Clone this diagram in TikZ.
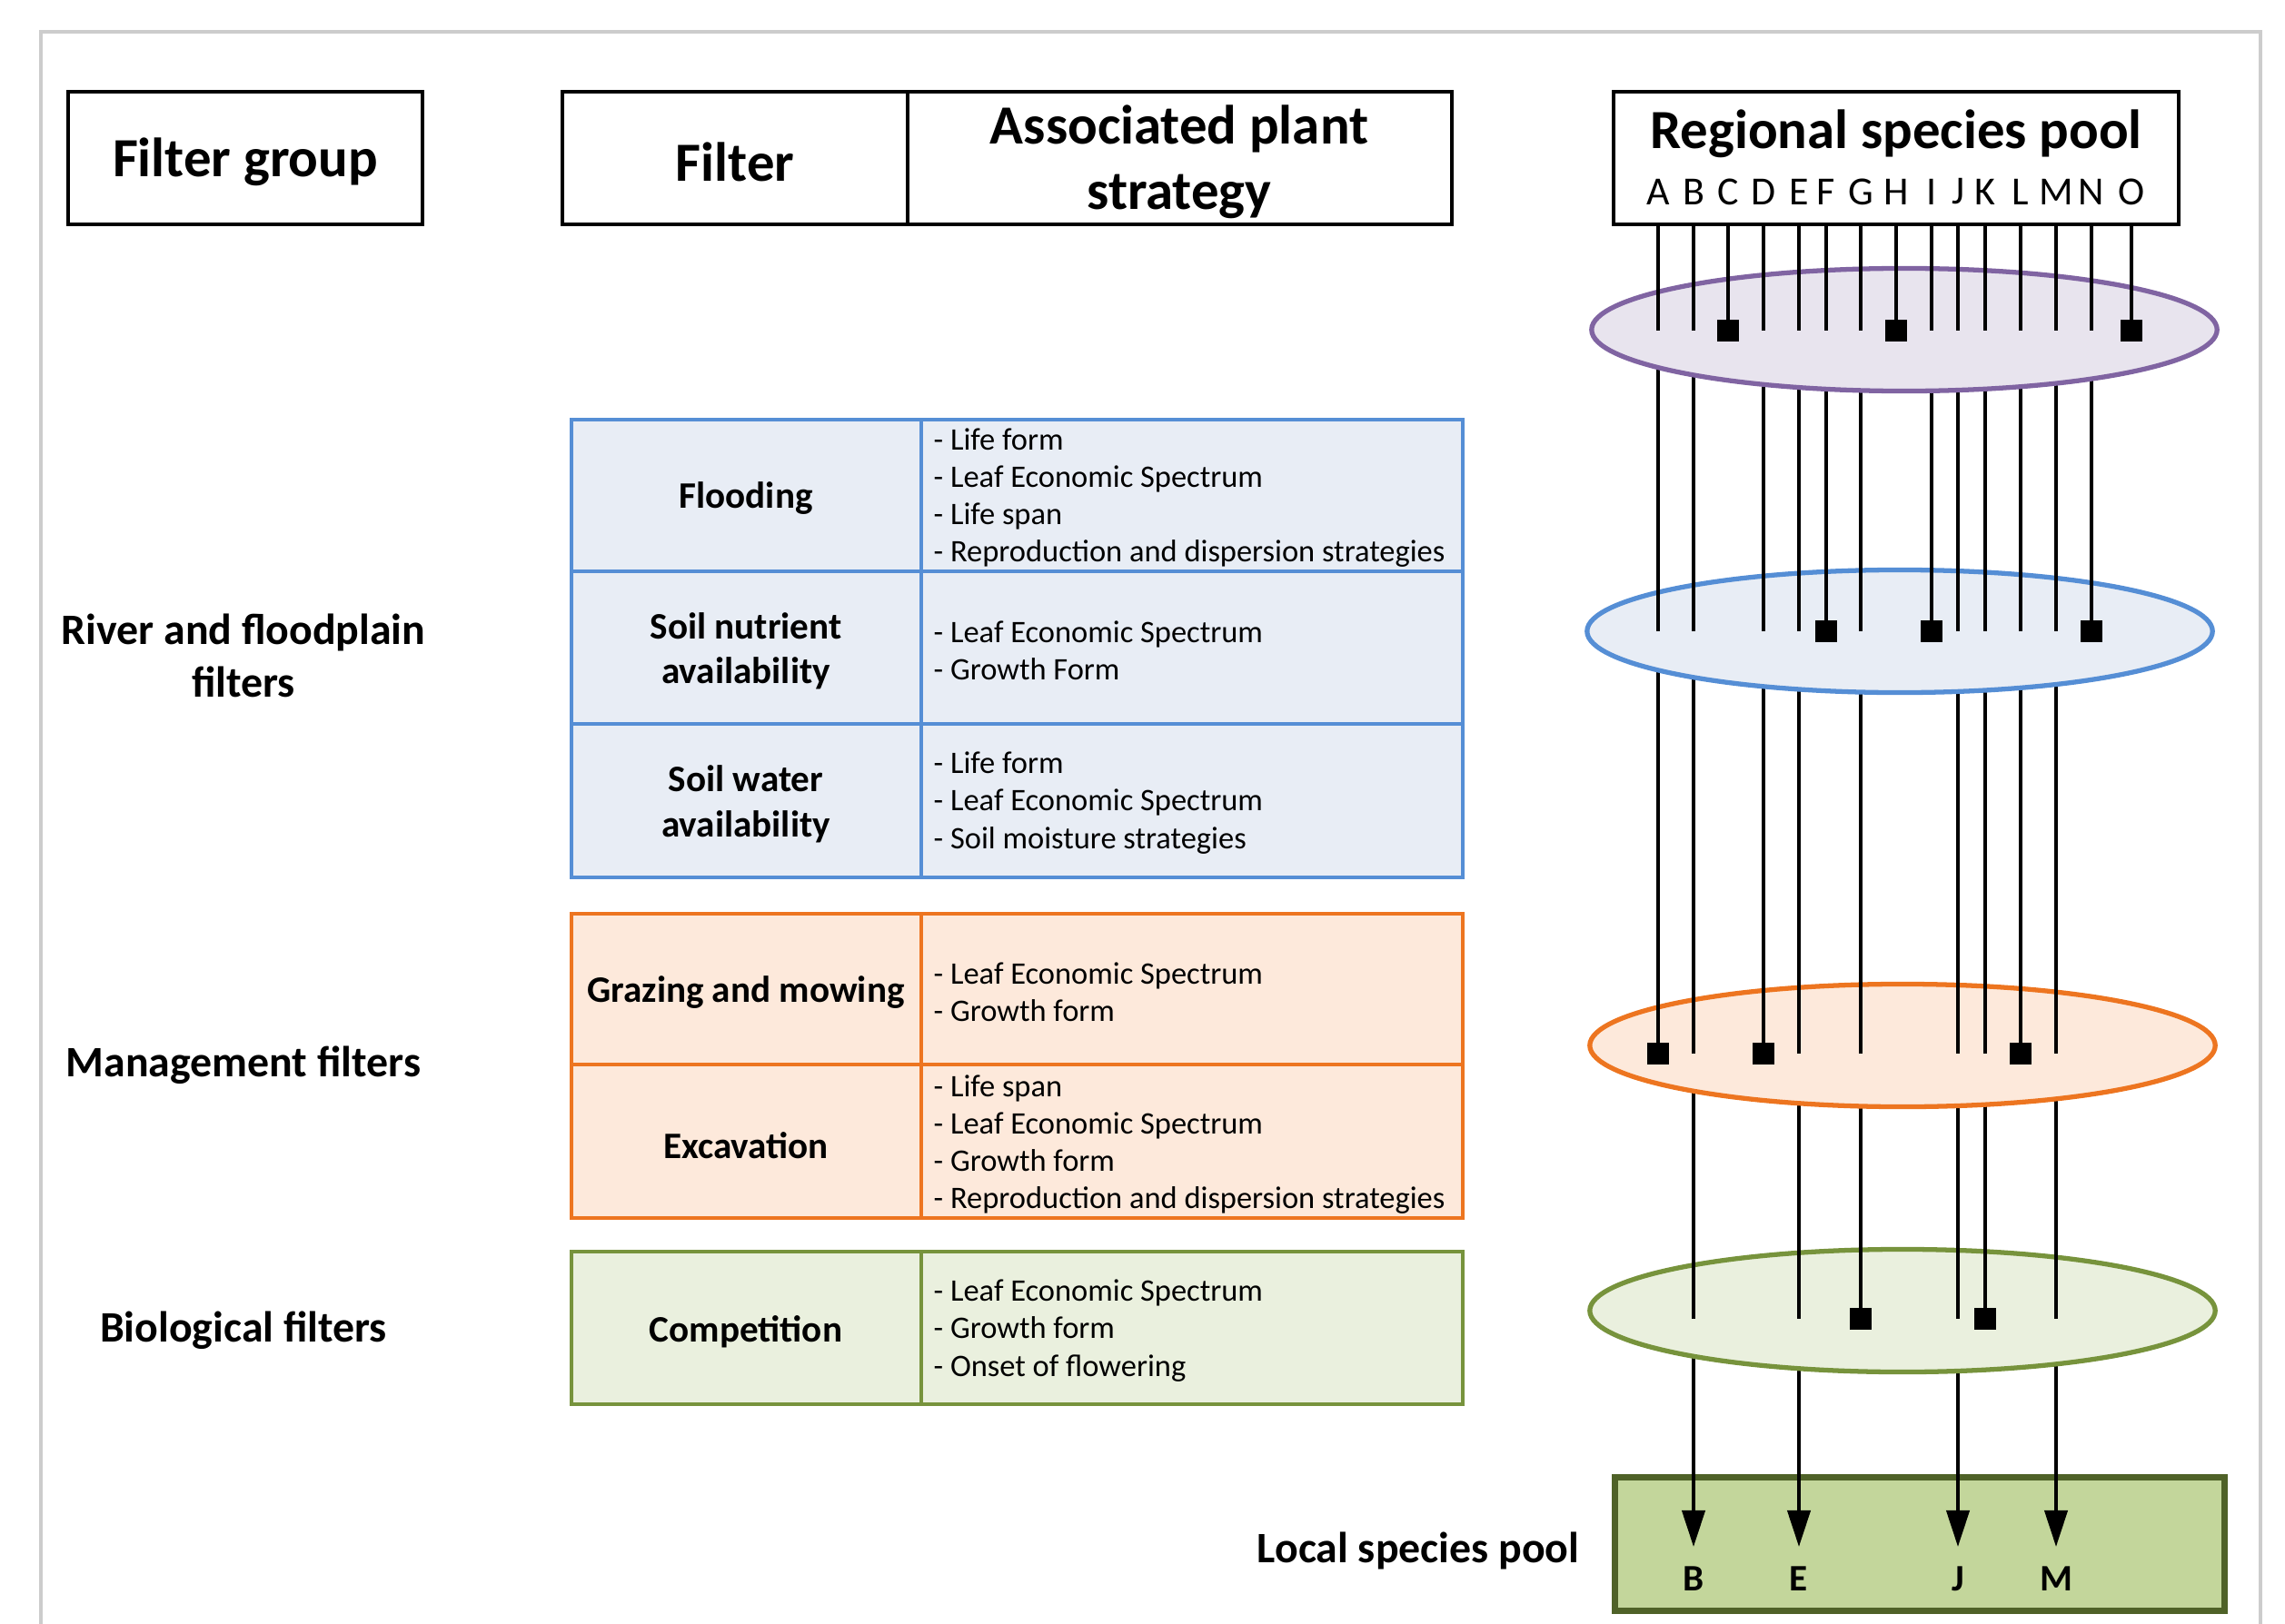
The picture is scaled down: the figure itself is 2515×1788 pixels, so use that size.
\documentclass[tikz,border=0pt]{standalone}
\usepackage{fontspec}
\setmainfont{Carlito}
\usetikzlibrary{arrows.meta,shapes.geometric}

\definecolor{purpleline}{HTML}{8064A2}
\definecolor{purplefill}{HTML}{E8E4EE}
\definecolor{blueline}{HTML}{558ED5}
\definecolor{bluefill}{HTML}{E8EDF5}
\definecolor{orangeline}{HTML}{ED7520}
\definecolor{orangefill}{HTML}{FDE9DB}
\definecolor{greenline}{HTML}{77933C}
\definecolor{greenfill}{HTML}{EAF0DE}
\definecolor{poolline}{HTML}{4F6228}
\definecolor{poolfill}{HTML}{C3D69B}
\definecolor{framegray}{HTML}{CCCCCC}

\tikzset{
  headbox/.style={draw=black, line width=1.4pt},
  headtext/.style={font=\fontsize{17.3}{20.5}\selectfont\bfseries, align=center, inner sep=0pt},
  grouptext/.style={font=\fontsize{13.6}{16.4}\selectfont\bfseries, align=center, inner sep=0pt},
  filtertext/.style={font=\fontsize{11.7}{14.1}\selectfont\bfseries, align=center, inner sep=0pt},
  traittext/.style={font=\fontsize{9.8}{11.7}\selectfont, align=left, anchor=west, inner sep=0pt},
  tablecell/.style={draw=#1line, fill=#1fill, line width=1.4pt},
  levelring/.style={ellipse, draw=#1line, fill=#1fill, line width=1.5pt, inner sep=0pt,
                    minimum width=6.88cm, minimum height=1.35cm},
  speciesline/.style={line width=1.15pt},
  stopmark/.style={fill=black, inner sep=0pt, minimum size=0.24cm},
}

\def\specieslist{A/1825/3, B/1864/5, C/1902/1, D/1941/3, E/1980/5, F/2010/2, G/2048/4, H/2087/1,
  I/2126/2, J/2155/5, K/2185/4, L/2224/3, M/2263/5, N/2302/2, O/2346/1}

\begin{document}
\begin{tikzpicture}[x=0.01cm, y=-0.01cm]
\useasboundingbox (0,0) rectangle (2515,1788);

\draw[framegray, line width=0.9pt] (45,1788) -- (45,35) -- (2488,35) -- (2488,1788);

% column headings
\draw[headbox] (75,101) rectangle (465,247);
\node[headtext] (grouphead) at (270,178) {Filter group};

\draw[headbox] (619,101) rectangle (1598,247);
\draw[headbox] (999,101) -- (999,247);
\node[headtext] (filterhead) at (809,178) {Filter};
\node[headtext] (strategyhead) at (1298,178) {Associated plant\\strategy};

\draw[headbox] (1776,101) rectangle (2398,247);
\node[headtext] (regional) at (2087,147) {Regional species pool};

% filter groups
\node[grouptext] (rivergroup) at (268,722) {River and floodplain\\filters};
\node[grouptext] (mgmtgroup) at (268,1173) {Management filters};
\node[grouptext] (biogroup) at (268,1465) {Biological filters};

\draw[tablecell=blue] (629,462) rectangle (1610,966);
\draw[tablecell=blue, fill=none] (1014,462) -- (1014,966) (629,629) -- (1610,629) (629,797) -- (1610,797);
\node[filtertext] (flooding) at (821,549) {Flooding};
\node[traittext] (flooding-traits) at (1027,548) {- Life form\\- Leaf Economic Spectrum\\- Life span\\- Reproduction and dispersion strategies};
\node[filtertext] (nutrient) at (821,717) {Soil nutrient\\availability};
\node[traittext] (nutrient-traits) at (1027,716) {- Leaf Economic Spectrum\\- Growth Form};
\node[filtertext] (water) at (821,885) {Soil water\\availability};
\node[traittext] (water-traits) at (1027,884) {- Life form\\- Leaf Economic Spectrum\\- Soil moisture strategies};

\draw[tablecell=orange] (629,1006) rectangle (1610,1341);
\draw[tablecell=orange, fill=none] (1014,1006) -- (1014,1341) (629,1172) -- (1610,1172);
\node[filtertext] (grazing) at (821,1093) {Grazing and mowing};
\node[traittext] (grazing-traits) at (1027,1092) {- Leaf Economic Spectrum\\- Growth form};
\node[filtertext] (excavation) at (821,1261) {Excavation};
\node[traittext] (excavation-traits) at (1027,1260) {- Life span\\- Leaf Economic Spectrum\\- Growth form\\- Reproduction and dispersion strategies};

\draw[tablecell=green] (629,1378) rectangle (1610,1546);
\draw[tablecell=green, fill=none] (1014,1378) -- (1014,1546);
\node[filtertext] (competition) at (821,1466) {Competition};
\node[traittext] (competition-traits) at (1027,1465) {- Leaf Economic Spectrum\\- Growth form\\- Onset of flowering};

% species path points: 0 = pool box, 1-4 = filters, 5 = local pool
\foreach \s/\x/\n in \specieslist {
  \foreach \k/\y in {0/247, 1/364, 2/695, 3/1160, 4/1452, 5/1703}
    \coordinate (\s\k) at (\x,\y);
  \node[font=\fontsize{12.5}{15}\selectfont, inner sep=0pt] (\s-name) at (\x,211) {\s};
}

% local species pool
\node[draw=poolline, fill=poolfill, line width=2pt, inner sep=0pt,
      minimum width=6.7cm, minimum height=1.46cm] (localpool) at (2113,1700) {};
\node[grouptext, anchor=east] (localhead) at (1739,1707) {Local species pool};

\foreach \s/\x/\n in \specieslist {
  \ifnum\n>4
    \draw[speciesline, -{Triangle[length=0.4cm, width=0.25cm]}] (\s4) -- (\s5);
    \node[filtertext] (\s-local) at (\x,1738) {\s};
  \fi
}

% filters, drawn from the bottom up
\node[levelring=green] (level4) at (2094,1443) {};
\foreach \s/\x/\n in \specieslist {
  \ifnum\n>3 \draw[speciesline] (\s3) -- (\s4); \fi
}
\node[levelring=orange] (level3) at (2094,1151) {};
\foreach \s/\x/\n in \specieslist {
  \ifnum\n>2 \draw[speciesline] (\s2) -- (\s3); \fi
}
\node[levelring=blue] (level2) at (2091,695) {};
\foreach \s/\x/\n in \specieslist {
  \ifnum\n>1 \draw[speciesline] (\s1) -- (\s2); \fi
}
\node[levelring=purple] (level1) at (2096,363) {};
\foreach \s/\x/\n in \specieslist {
  \draw[speciesline] (\s0) -- (\s1);
}

% filtered out
\foreach \s/\x/\n in \specieslist {
  \ifnum\n<5 \node[stopmark] (\s-stop) at (\s\n) {}; \fi
}

\end{tikzpicture}
\end{document}
